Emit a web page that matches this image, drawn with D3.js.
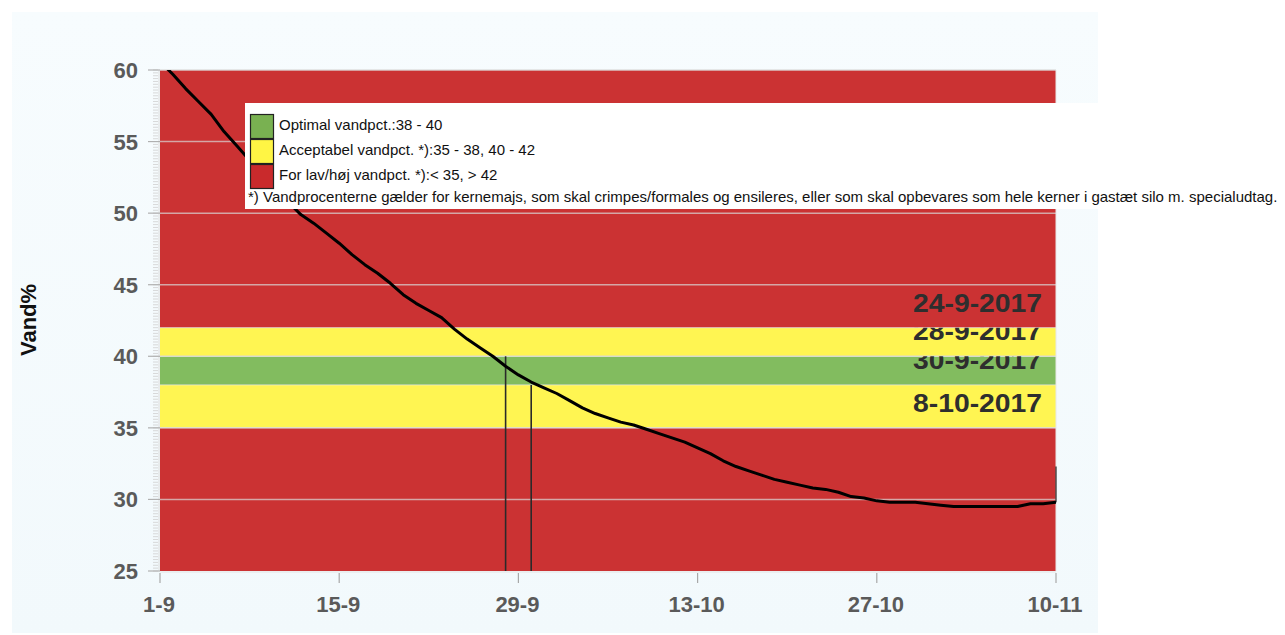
<!DOCTYPE html>
<html lang="da">
<head>
<meta charset="UTF-8">
<title>Vand%</title>
<script src="https://cdn.jsdelivr.net/npm/d3@7"></script>
<style>
  body { margin: 0; background: #ffffff; }
  text { font-family: 'Liberation Sans', Arial, sans-serif; }
</style>
</head>
<body>
<div id="chart"></div>
<script>
// data
const startDate = "2017-09-01"
const vand = [60.6, 59.7, 58.7, 57.8, 56.9, 55.7, 54.7, 53.7, 52.7, 51.7,
  50.8, 49.9, 49.3, 48.6, 47.9, 47.1, 46.4, 45.8, 45.1, 44.3,
  43.7, 43.2, 42.7, 41.9, 41.2, 40.6, 40.0, 39.3, 38.7, 38.2,
  37.8, 37.4, 36.9, 36.4, 36.0, 35.7, 35.4, 35.2, 34.9, 34.6,
  34.3, 34.0, 33.6, 33.2, 32.7, 32.3, 32.0, 31.7, 31.4, 31.2,
  31.0, 30.8, 30.7, 30.5, 30.2, 30.1, 29.9, 29.8, 29.8, 29.8,
  29.7, 29.6, 29.5, 29.5, 29.5, 29.5, 29.5, 29.5, 29.7, 29.7, 29.8]
const lastSpike = 32.3

const xTicks = ["2017-09-01", "2017-09-15", "2017-09-29", "2017-10-13", "2017-10-27", "2017-11-10"]
const yTicks = [25, 30, 35, 40, 45, 50, 55, 60]

const bandLow = [25, 35, 38, 40, 42]
const bandHigh = [35, 38, 40, 42, 60]
const bandKind = ["bad", "ok", "optimal", "ok", "bad"]

const markDates = ["2017-09-24", "2017-09-28", "2017-09-30", "2017-10-08"]
const markLabels = ["24-9-2017", "28-9-2017", "30-9-2017", "8-10-2017"]
const markLevels = [42, 40, 38, 35]
const markLine = [false, true, true, false]

const legendKind = ["optimal", "ok", "bad"]
const legendLabels = ["Optimal vandpct.:38 - 40", "Acceptabel vandpct. *):35 - 38, 40 - 42", "For lav/høj vandpct. *):< 35, > 42"]
const footnote = "*) Vandprocenterne gælder for kernemajs, som skal crimpes/formales og ensileres, eller som skal opbevares som hele kerner i gastæt silo m. specialudtag."

const colors = { bad: "#cb3233", ok: "#fff552", optimal: "#82bc5f" }
const swatchColors = { bad: "#c92a2c", ok: "#fff544", optimal: "#79b151" }

const W = 1285, H = 635
const pL = 160, pR = 1056, pT = 70, pB = 571
const parse = d3.utcParse("%Y-%m-%d")
const start = parse(startDate)
const series = vand.map((v, i) => ({ date: d3.utcDay.offset(start, i), v: v }))

const x = d3.scaleUtc().domain([start, parse(xTicks[xTicks.length - 1])]).range([pL, pR])
const y = d3.scaleLinear().domain([25, 60]).range([pB, pT])

const svg = d3.select("#chart").append("svg")
  .attr("width", W).attr("height", H)

const defs = svg.append("defs")
const grad = defs.append("linearGradient").attr("id", "bg").attr("x1", 0).attr("y1", 0).attr("x2", 0).attr("y2", 1)
grad.append("stop").attr("offset", "0%").attr("stop-color", "#f7fcfe")
grad.append("stop").attr("offset", "100%").attr("stop-color", "#f2f9fc")

svg.append("rect").attr("x", 12).attr("y", 12).attr("width", 1086).attr("height", 621).attr("fill", "url(#bg)")

defs.append("clipPath").attr("id", "plot")
  .append("rect").attr("x", pL).attr("y", pT).attr("width", pR - pL).attr("height", pB - pT)

// each date label is cut at the band edge above it
markLabels.forEach((t, i) => {
  const clipTop = i === 0 ? 0 : y(markLevels[i - 1])
  defs.append("clipPath").attr("id", "lc" + i)
    .append("rect").attr("x", pL).attr("y", clipTop).attr("width", pR - pL).attr("height", pB - clipTop)
})

// bands
svg.append("g").selectAll("rect").data(bandLow).join("rect")
  .attr("x", pL)
  .attr("y", (d, i) => y(bandHigh[i]))
  .attr("width", pR - pL)
  .attr("height", (d, i) => y(d) - y(bandHigh[i]))
  .attr("fill", (d, i) => colors[bandKind[i]])

// band edges
svg.append("g").selectAll("line").data(bandLow.slice(1).concat([60])).join("line")
  .attr("x1", pL).attr("x2", pR)
  .attr("y1", d => y(d)).attr("y2", d => y(d))
  .attr("stroke", "#e6e6e6").attr("stroke-opacity", 0.55).attr("stroke-width", 1.2)

// grid
svg.append("g").selectAll("line").data(yTicks.slice(1)).join("line")
  .attr("x1", pL).attr("x2", pR)
  .attr("y1", d => y(d)).attr("y2", d => y(d))
  .attr("stroke", "#d8d8d8").attr("stroke-opacity", 0.7).attr("stroke-width", 1.5)

svg.append("line").attr("x1", pR).attr("x2", pR).attr("y1", pT).attr("y2", pB)
  .attr("stroke", "#e8e8e8").attr("stroke-width", 1)

// right side date labels
svg.append("g").selectAll("text").data(markLabels).join("text")
  .attr("clip-path", (d, i) => "url(#lc" + i + ")")
  .attr("x", 1042).attr("y", (d, i) => y(markLevels[i]) - 16)
  .attr("text-anchor", "end")
  .attr("font-size", 26).attr("font-weight", "bold")
  .attr("fill", "#2e2e2e")
  .attr("textLength", 129).attr("lengthAdjust", "spacingAndGlyphs")
  .text(d => d)

// vertical date lines
svg.append("g").selectAll("line").data(markDates.filter((d, i) => markLine[i])).join("line")
  .attr("x1", d => x(parse(d))).attr("x2", d => x(parse(d)))
  .attr("y1", d => y(markLevels[markDates.indexOf(d)])).attr("y2", pB)
  .attr("stroke", "#2a2a2a").attr("stroke-width", 1.6)

// curve
const line = d3.line().x(d => x(d.date)).y(d => y(d.v))
svg.append("path").datum(series)
  .attr("clip-path", "url(#plot)")
  .attr("d", line)
  .attr("fill", "none").attr("stroke", "#000").attr("stroke-width", 3)
  .attr("stroke-linejoin", "round")

const last = series[series.length - 1]
svg.append("line")
  .attr("x1", x(last.date)).attr("x2", x(last.date))
  .attr("y1", y(last.v)).attr("y2", y(lastSpike))
  .attr("stroke", "#000").attr("stroke-width", 1)

// y axis
const yMinor = d3.range(25, 60.01, 0.2)
svg.append("g").selectAll("line").data(yMinor).join("line")
  .attr("x1", 153).attr("x2", 158)
  .attr("y1", d => y(d)).attr("y2", d => y(d))
  .attr("stroke", "#cfcfcf").attr("stroke-width", 0.8)
svg.append("line").attr("x1", 159).attr("x2", 159).attr("y1", pT).attr("y2", pB)
  .attr("stroke", "#dcdcdc").attr("stroke-width", 1)
svg.append("g").selectAll("line").data(yTicks).join("line")
  .attr("x1", 148).attr("x2", 160)
  .attr("y1", d => y(d)).attr("y2", d => y(d))
  .attr("stroke", "#b0b0b0").attr("stroke-width", 1.2)
svg.append("g").selectAll("text").data(yTicks).join("text")
  .attr("x", 138).attr("y", d => y(d) + 8)
  .attr("text-anchor", "end")
  .attr("font-size", 22).attr("font-weight", "bold").attr("fill", "#5a5a5a")
  .text(d => d)

// x axis
svg.append("line").attr("x1", pL).attr("x2", pR).attr("y1", pB + 1).attr("y2", pB + 1)
  .attr("stroke", "#e3e3e3").attr("stroke-width", 1)
svg.append("g").selectAll("line").data(xTicks).join("line")
  .attr("x1", d => x(parse(d))).attr("x2", d => x(parse(d)))
  .attr("y1", pB + 2).attr("y2", pB + 12)
  .attr("stroke", "#a8a8a8").attr("stroke-width", 1.2)
const fmt = d3.utcFormat("%-d-%-m")
svg.append("g").selectAll("text").data(xTicks).join("text")
  .attr("x", d => x(parse(d)) - 1).attr("y", 612)
  .attr("text-anchor", "middle")
  .attr("font-size", 22).attr("font-weight", "bold").attr("fill", "#5a5a5a")
  .text(d => fmt(parse(d)))

// y title
svg.append("text")
  .attr("transform", "translate(36,320) rotate(-90)")
  .attr("text-anchor", "middle")
  .attr("font-size", 22).attr("font-weight", "bold").attr("fill", "#111")
  .text("Vand%")

// legend
const leg = svg.append("g")
leg.append("rect").attr("x", 245).attr("y", 103).attr("width", W - 245).attr("height", 106).attr("fill", "#fff")
legendLabels.forEach((t, i) => {
  leg.append("rect")
    .attr("x", 250.5).attr("y", 114.5 + i * 25).attr("width", 23).attr("height", 24)
    .attr("fill", swatchColors[legendKind[i]]).attr("stroke", "#222").attr("stroke-width", 1.2)
  leg.append("text")
    .attr("x", 279).attr("y", 130 + i * 25)
    .attr("font-size", 15).attr("fill", "#111")
    .text(t)
})
leg.append("text")
  .attr("x", 248).attr("y", 202)
  .attr("font-size", 15).attr("fill", "#111")
  .text(footnote)
</script>
</body>
</html>
